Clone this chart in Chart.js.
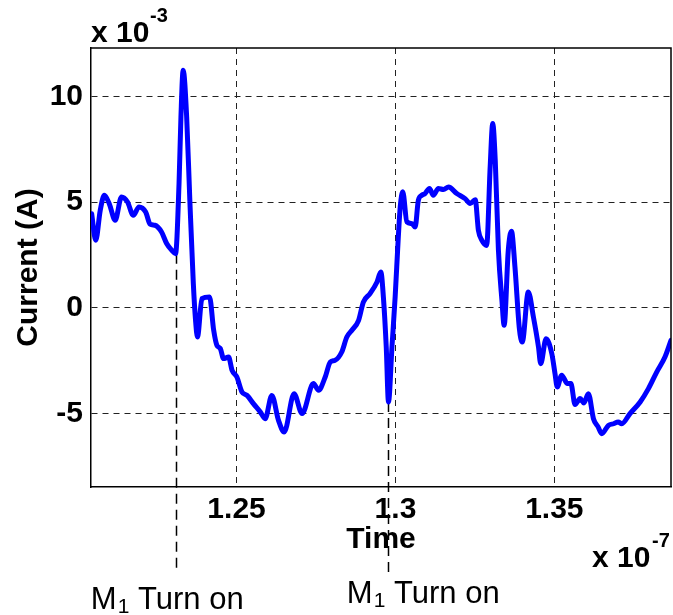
<!DOCTYPE html>
<html>
<head>
<meta charset="utf-8">
<script src="https://cdn.jsdelivr.net/npm/chart.js@4.4.1/dist/chart.umd.min.js"></script>
<style>
  html, body { margin: 0; padding: 0; background: #fff; }
  canvas { display: block; }
</style>
</head>
<body>
<canvas id="myChart" width="673" height="615"></canvas>
<script>
// time in units of 1e-7 s, current in units of 1e-3 A
const timeValues = [
  1.2044, 1.2057, 1.2071, 1.2084, 1.2100, 1.2118, 1.2138, 1.2157, 1.2175, 1.2193,
  1.2214, 1.2228, 1.2243, 1.2264, 1.2280, 1.2296, 1.2308, 1.2319, 1.2325, 1.2332,
  1.2343, 1.2353, 1.2364, 1.2371, 1.2377, 1.2391, 1.2415, 1.2428, 1.2438, 1.2449,
  1.2459, 1.2475, 1.2486, 1.2501, 1.2517, 1.2533, 1.2553, 1.2575, 1.2590, 1.2611,
  1.2632, 1.2650, 1.2681, 1.2706, 1.2742, 1.2758, 1.2779, 1.2795, 1.2810, 1.2831,
  1.2847, 1.2863, 1.2884, 1.2899, 1.2920, 1.2942, 1.2954, 1.2962, 1.2971, 1.2978,
  1.2989, 1.2999, 1.3009, 1.3015, 1.3023, 1.3036, 1.3052, 1.3062, 1.3072, 1.3083,
  1.3093, 1.3107, 1.3119, 1.3135, 1.3151, 1.3167, 1.3193, 1.3219, 1.3235, 1.3251,
  1.3261, 1.3272, 1.3287, 1.3298, 1.3306, 1.3314, 1.3324, 1.3335, 1.3342, 1.3355,
  1.3365, 1.3376, 1.3390, 1.3399, 1.3418, 1.3434, 1.3450, 1.3457, 1.3474, 1.3492,
  1.3502, 1.3509, 1.3523, 1.3541, 1.3552, 1.3565, 1.3581, 1.3593, 1.3607, 1.3623,
  1.3638, 1.3649, 1.3670, 1.3686, 1.3701, 1.3712, 1.3738, 1.3770, 1.3796, 1.3822,
  1.3848, 1.3867
];
const currentValues = [
  4.45, 3.19, 4.6, 5.32, 4.9, 4.14, 5.24, 5.0, 4.37, 4.77,
  4.53, 3.95, 3.9, 3.58, 3.04, 2.72, 2.56, 5.87, 9.02, 11.23,
  9.02, 5.08, 1.14, -0.6, -1.38, 0.43, 0.51, -1.06, -1.77, -1.93,
  -2.4, -2.33, -2.96, -3.27, -3.98, -4.14, -4.53, -4.93, -5.24, -4.14,
  -5.32, -5.87, -4.06, -5.0, -3.58, -3.9, -3.27, -2.56, -2.48, -2.09,
  -1.38, -1.06, -0.59, 0.27, 0.67, 1.22, 1.69, 0.51, -1.85, -4.45,
  -1.85, 0.51, 3.35, 4.77, 5.48, 4.06, 3.98, 3.82, 5.08, 5.32,
  5.4, 5.64, 5.32, 5.64, 5.59, 5.71, 5.4, 5.16, 4.93, 5.11,
  3.66, 3.19, 2.95, 6.66, 8.71, 6.97, 2.72, 0.35, -0.83, 2.72,
  3.62, 1.93, -1.0, -1.62, 0.75, -0.43, -1.85, -2.64, -1.46, -2.17,
  -3.11, -3.74, -3.19, -3.58, -3.58, -4.57, -4.29, -4.5, -4.06, -5.24,
  -5.64, -5.95, -5.56, -5.48, -5.4, -5.48, -5.0, -4.45, -3.82, -3.04,
  -2.33, -1.54
];
const timeTicks = [1.25, 1.3, 1.35];
const currentTicks = [-5, 0, 5, 10];
const markerTimes = [1.2309, 1.2976];
const markerCurrents = [2.56, -4.45];

const FONT = '"Liberation Sans", Arial, Helvetica, sans-serif';
Chart.defaults.font.family = FONT;
Chart.defaults.color = '#000';

// dashed "turn on" markers, exponent labels and the box around the plot
const annotations = {
  id: 'annotations',
  beforeDatasetsDraw(chart) {
    const { ctx, scales: { x, y } } = chart;
    const ends = [chart.height - 45, chart.height - 38];
    ctx.save();
    ctx.strokeStyle = '#000';
    ctx.lineWidth = 1.5;
    ctx.setLineDash([10, 6]);
    markerTimes.forEach((t, i) => {
      const px = Math.round(x.getPixelForValue(t)) + 0.5;
      ctx.beginPath();
      ctx.moveTo(px, y.getPixelForValue(markerCurrents[i]));
      ctx.lineTo(px, ends[i]);
      ctx.stroke();
    });
    ctx.restore();
  },
  afterDraw(chart) {
    const { ctx, chartArea: a, scales: { x } } = chart;
    ctx.save();
    // top and right sides of the box
    ctx.strokeStyle = '#000';
    ctx.lineWidth = 1.5;
    ctx.beginPath();
    ctx.moveTo(a.left, a.top);
    ctx.lineTo(a.right, a.top);
    ctx.lineTo(a.right, a.bottom);
    ctx.stroke();

    ctx.fillStyle = '#000';
    ctx.textBaseline = 'alphabetic';
    ctx.textAlign = 'left';
    // exponents
    ctx.font = 'bold 30px ' + FONT;
    ctx.fillText('x 10', a.left, 42);
    ctx.fillText('x 10', 592, 567);
    ctx.font = 'bold 20px ' + FONT;
    ctx.fillText('-3', a.left + 59, 22);
    ctx.fillText('-7', 652, 547);

    // M1 Turn on labels
    const offsets = [-85, -41];
    const baselines = [609, 603];
    markerTimes.forEach((t, i) => {
      let tx = x.getPixelForValue(t) + offsets[i];
      const by = baselines[i];
      ctx.font = '31px ' + FONT;
      ctx.fillText('M', tx, by);
      tx += ctx.measureText('M').width + 1;
      ctx.font = '21px ' + FONT;
      ctx.fillText('1', tx, by + 4);
      tx += ctx.measureText('1').width;
      ctx.font = '31px ' + FONT;
      ctx.fillText(' Turn on', tx, by);
    });
    ctx.restore();
  }
};

new Chart(document.getElementById('myChart').getContext('2d'), {
  type: 'line',
  data: {
    datasets: [{
      data: timeValues.map((t, i) => ({ x: t, y: currentValues[i] })),
      borderColor: '#0000ff',
      borderWidth: 5,
      borderJoinStyle: 'round',
      borderCapStyle: 'round',
      pointRadius: 0,
      cubicInterpolationMode: 'monotone',
      fill: false
    }]
  },
  options: {
    responsive: false,
    animation: false,
    devicePixelRatio: 1,
    layout: { padding: { top: 48, right: 2, left: 0, bottom: 0 } },
    plugins: { legend: { display: false }, tooltip: { enabled: false } },
    scales: {
      x: {
        type: 'linear',
        min: 1.2042,
        max: 1.3867,
        afterBuildTicks: (scale) => { scale.ticks = timeTicks.map(v => ({ value: v })); },
        afterFit: (scale) => { scale.height = 128; },
        ticks: {
          padding: 5,
          maxRotation: 0,
          font: { size: 30, weight: 'bold' },
          callback: (v) => String(+v.toFixed(2))
        },
        grid: { color: '#222', lineWidth: 1, drawTicks: false },
        border: { display: true, color: '#000', width: 1.5, dash: [6, 5] },
        title: {
          display: true,
          text: 'Time',
          font: { size: 30, weight: 'bold' },
          padding: { top: 0, bottom: 57 }
        }
      },
      y: {
        min: -8.47,
        max: 12.28,
        afterBuildTicks: (scale) => { scale.ticks = currentTicks.map(v => ({ value: v })); },
        afterFit: (scale) => { scale.width = 91; },
        ticks: {
          padding: 8,
          font: { size: 30, weight: 'bold' },
          callback: (v) => String(v)
        },
        grid: { color: '#222', lineWidth: 1, drawTicks: false },
        border: { display: true, color: '#000', width: 1.5, dash: [6, 5] },
        title: {
          display: true,
          text: 'Current (A)',
          font: { size: 30, weight: 'bold' },
          padding: { top: 11, bottom: 0 }
        }
      }
    }
  },
  plugins: [annotations]
});
</script>
</body>
</html>
